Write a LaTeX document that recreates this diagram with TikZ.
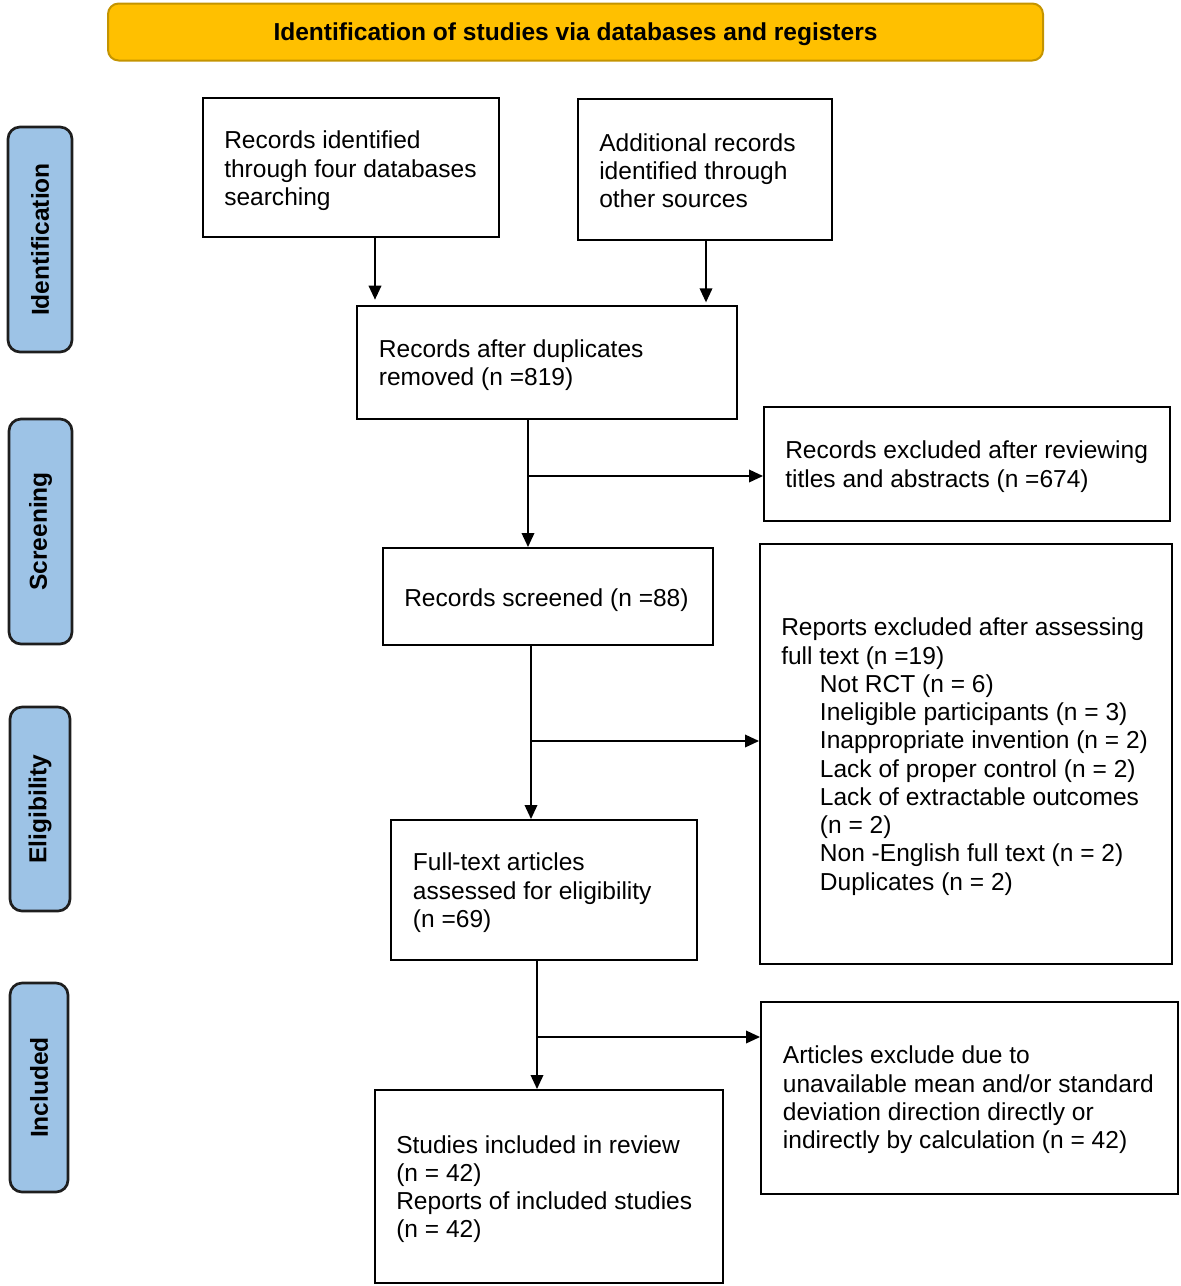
\documentclass[tikz,border=0pt]{standalone}
\usepackage{fontspec}
\setmainfont{Liberation Sans}
\usetikzlibrary{arrows.meta,calc}
\definecolor{hdrfill}{RGB}{255,192,0}
\definecolor{hdrdraw}{RGB}{196,148,0}
\definecolor{sidefill}{RGB}{157,195,230}
\definecolor{sidedraw}{RGB}{30,30,30}
\newcommand\pxl[1]{#1*0.75pt}
\begin{document}
\begin{tikzpicture}[x=0.75pt,y=-0.75pt,
  box/.style={draw=black, line width=1.5pt, fill=white, inner sep=0pt},
  txt/.style={anchor=west, align=left, inner sep=0pt, font=\fontsize{18.4}{21.2}\selectfont},
  side/.style={draw=sidedraw, line width=2pt, fill=sidefill, rounded corners=9pt, rotate=90, inner sep=0pt, font=\bfseries\fontsize{18.4}{21}\selectfont},
  hdr/.style={draw=hdrdraw, line width=1.5pt, fill=hdrfill, rounded corners=8pt, inner sep=0pt},
  hdrtxt/.style={inner sep=0pt, font=\bfseries\fontsize{18.4}{21}\selectfont},
  arr/.style={line width=1.1pt, -{Triangle[length=10.5pt,width=9.5pt]}},
  ln/.style={line width=1.1pt}]
\useasboundingbox (0,0) rectangle (1181,1286);

% header
\node[hdr, minimum width={\pxl{935}}, minimum height={\pxl{57}}] (hdr) at (575.5,32) {};
\node[hdrtxt] (hdrt) at ([yshift=-1.5pt]hdr.center) {Identification of studies via databases and registers};

% side labels
\node[side, minimum width={\pxl{225}}, minimum height={\pxl{64}}] (s1) at (40,239.5) {Identification};
\node[side, minimum width={\pxl{225}}, minimum height={\pxl{63}}] (s2) at (40.5,531.5) {Screening};
\node[side, minimum width={\pxl{204}}, minimum height={\pxl{60}}] (s3) at (40,809) {Eligibility};
\node[side, minimum width={\pxl{209}}, minimum height={\pxl{58}}] (s4) at (39,1087.5) {Included};

% boxes
\node[box, minimum width={\pxl{296}}, minimum height={\pxl{139}}] (a) at (351,167.5) {};
\node[box, minimum width={\pxl{254}}, minimum height={\pxl{141}}] (b) at (705,169.5) {};
\node[box, minimum width={\pxl{380}}, minimum height={\pxl{113}}] (c) at (547,362.5) {};
\node[box, minimum width={\pxl{406}}, minimum height={\pxl{114}}] (d) at (967,464) {};
\node[box, minimum width={\pxl{330}}, minimum height={\pxl{97}}] (e) at (548,596.5) {};
\node[box, minimum width={\pxl{412}}, minimum height={\pxl{420}}] (f) at (966,754) {};
\node[box, minimum width={\pxl{306}}, minimum height={\pxl{140}}] (g) at (544,890) {};
\node[box, minimum width={\pxl{348}}, minimum height={\pxl{193}}] (h) at (549,1186.5) {};
\node[box, minimum width={\pxl{417}}, minimum height={\pxl{192}}] (i) at (969.5,1098) {};

% texts
\node[txt] (ta) at ([xshift=16.5pt,yshift=-2.5pt]a.west) {Records identified\\through four databases\\searching};
\node[txt] (tb) at ([xshift=16.5pt,yshift=-1pt]b.west) {Additional records\\identified through\\other sources};
\node[txt] (tc) at ([xshift=17pt,yshift=-2pt]c.west) {Records after duplicates\\removed (n =819)};
\node[txt] (td) at ([xshift=16.5pt,yshift=-2pt]d.west) {Records excluded after reviewing\\titles and abstracts (n =674)};
\node[txt] (te) at ([xshift=16.5pt,yshift=-2.5pt]e.west) {Records screened (n =88)};
\node[txt] (tf) at ([xshift=16.5pt,yshift=-2pt]f.west) {Reports excluded after assessing\\full text (n =19)\\
\hspace*{29pt}Not RCT (n = 6)\\
\hspace*{29pt}Ineligible participants (n = 3)\\
\hspace*{29pt}Inappropriate invention (n = 2)\\
\hspace*{29pt}Lack of proper control (n = 2)\\
\hspace*{29pt}Lack of extractable outcomes\\
\hspace*{29pt}(n = 2)\\
\hspace*{29pt}Non -English full text (n = 2)\\
\hspace*{29pt}Duplicates (n = 2)};
\node[txt] (tg) at ([xshift=17pt,yshift=-2pt]g.west) {Full-text articles\\assessed for eligibility\\(n =69)};
\node[txt] (th) at ([xshift=16.5pt,yshift=-2pt]h.west) {Studies included in review\\(n = 42)\\Reports of included studies\\(n = 42)};
\node[txt] (ti) at ([xshift=17pt,yshift=-1.5pt]i.west) {Articles exclude due to\\unavailable mean and/or standard\\deviation direction directly or\\indirectly by calculation (n = 42)};

% connectors
\coordinate (xa) at (375,0);
\coordinate (xb) at (706,0);
\draw[arr, shorten >=4pt] (a.south -| xa) -- (c.north -| xa);
\draw[arr, shorten >=2pt] (b.south -| xb) -- (c.north -| xb);

\coordinate (j1) at (528,476);
\draw[arr] (c.south -| j1) -- (e.north -| j1);
\draw[arr] (j1) -- (j1 -| d.west);

\coordinate (j2) at (531,741);
\draw[arr] (e.south -| j2) -- (g.north -| j2);
\draw[arr] (j2) -- (j2 -| f.west);

\coordinate (j3) at (537,1037);
\draw[arr] (g.south -| j3) -- (h.north -| j3);
\draw[arr] (j3) -- (j3 -| i.west);
\end{tikzpicture}
\end{document}
